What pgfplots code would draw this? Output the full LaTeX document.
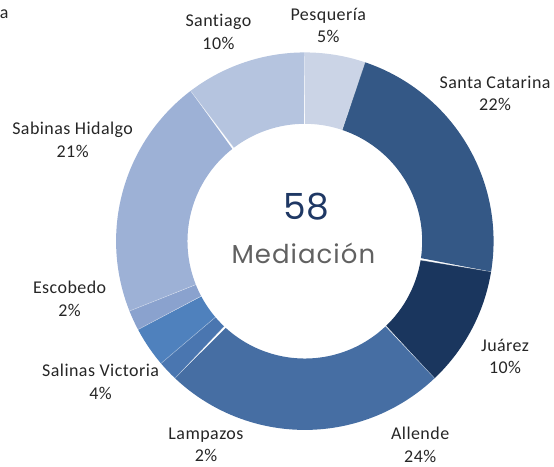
\documentclass[border=0pt]{standalone}
\usepackage{pgfplots}
\pgfplotsset{compat=1.18}
\usepackage{fontspec}
\setmainfont{Carlito}[LetterSpace=2.5, Ligatures=NoCommon]
\newfontfamily\centerfont{Poppins}[LetterSpace=4]
\newfontfamily\numfont{Poppins}
\definecolor{cPes}{HTML}{CBD4E6}
\definecolor{cSCa}{HTML}{345886}
\definecolor{cJua}{HTML}{1A365E}
\definecolor{cAll}{HTML}{466EA3}
\definecolor{cLam}{HTML}{4A76B0}
\definecolor{cSVi}{HTML}{4F81BD}
\definecolor{cEsc}{HTML}{8AA2CE}
\definecolor{cSHi}{HTML}{9DB1D6}
\definecolor{cSan}{HTML}{B5C4DF}
\definecolor{cNum}{HTML}{1F3864}
\definecolor{cTxt}{HTML}{262626}
% donut geometry (pixel units)
\def\cx{304.5}\def\cy{225.5}\def\RO{189}\def\RI{117.5}\def\TOT{58}
% wedge from cumulative count #1 to #2
\newcommand{\seg}[3]{%
\addplot[fill=#3, draw=none, domain=0:2, samples=161, variable=\t]
 ({\cx + ((\t<=1) ? \RO : \RI)*cos(90-360*(((\t<=1) ? (#1+(#2-#1)*\t) : (#2-(#2-#1)*(\t-1))))/\TOT)},
  {\cy + ((\t<=1) ? \RO : \RI)*sin(90-360*(((\t<=1) ? (#1+(#2-#1)*\t) : (#2-(#2-#1)*(\t-1))))/\TOT)}) -- cycle;}
\newcommand{\sep}[1]{%
\addplot[white, draw opacity=0.3, line width=0.5pt, domain=\RI:\RO, samples=2, variable=\r]
 ({\cx + \r*cos(90-360*#1/\TOT)},{\cy + \r*sin(90-360*#1/\TOT)});}
\begin{document}
\begin{tikzpicture}
\begin{axis}[
  width=415.5pt, height=350.25pt, scale only axis,
  xmin=0, xmax=554, ymin=0, ymax=467,
  hide axis, clip=false,
]
\addplot[draw=none] coordinates {(0,0) (554,467)};
% Counts (total 58): Pesqueria 3, Santa Catarina 13, Juarez 6, Allende 14,
% Lampazos 1, Salinas Victoria 2, Escobedo 1, Sabinas Hidalgo 12, Santiago 6
\seg{0}{3}{cPes}
\seg{3}{16}{cSCa}
\seg{16}{22}{cJua}
\seg{22}{36}{cAll}
\seg{36}{37}{cLam}
\seg{37}{39}{cSVi}
\seg{39}{40}{cEsc}
\seg{40}{52}{cSHi}
\seg{52}{58}{cSan}
\sep{0}\sep{3}\sep{16}\sep{22}\sep{36}\sep{37}\sep{39}\sep{40}\sep{52}
% labels
\begin{scope}[every node/.style={align=center, inner sep=0pt, text=cTxt, font=\fontsize{13.5}{17}\selectfont}]
\node at (axis cs:328,441.5) {Pesquería\\5\%};
\node at (axis cs:218,435) {Santiago\\10\%};
\node at (axis cs:495,373.5) {Santa Catarina\\22\%};
\node at (axis cs:72,327) {Sabinas Hidalgo\\21\%};
\node at (axis cs:69,168) {Escobedo\\2\%};
\node at (axis cs:505,110) {Juárez\\10\%};
\node at (axis cs:100,84.5) {Salinas Victoria\\4\%};
\node at (axis cs:205.5,21.5) {Lampazos\\2\%};
\node at (axis cs:420,21.5) {Allende\\24\%};
\node[anchor=west] at (axis cs:-1,453) {a};
\end{scope}
\node[text=cNum, font=\numfont\fontsize{27}{30}\selectfont, inner sep=0pt] at (axis cs:306,260.5) {58};
\node[text=black!62, font=\centerfont\fontsize{19.5}{22}\selectfont, inner sep=0pt] at (axis cs:303,213) {Mediación};
\end{axis}
\end{tikzpicture}
\end{document}
